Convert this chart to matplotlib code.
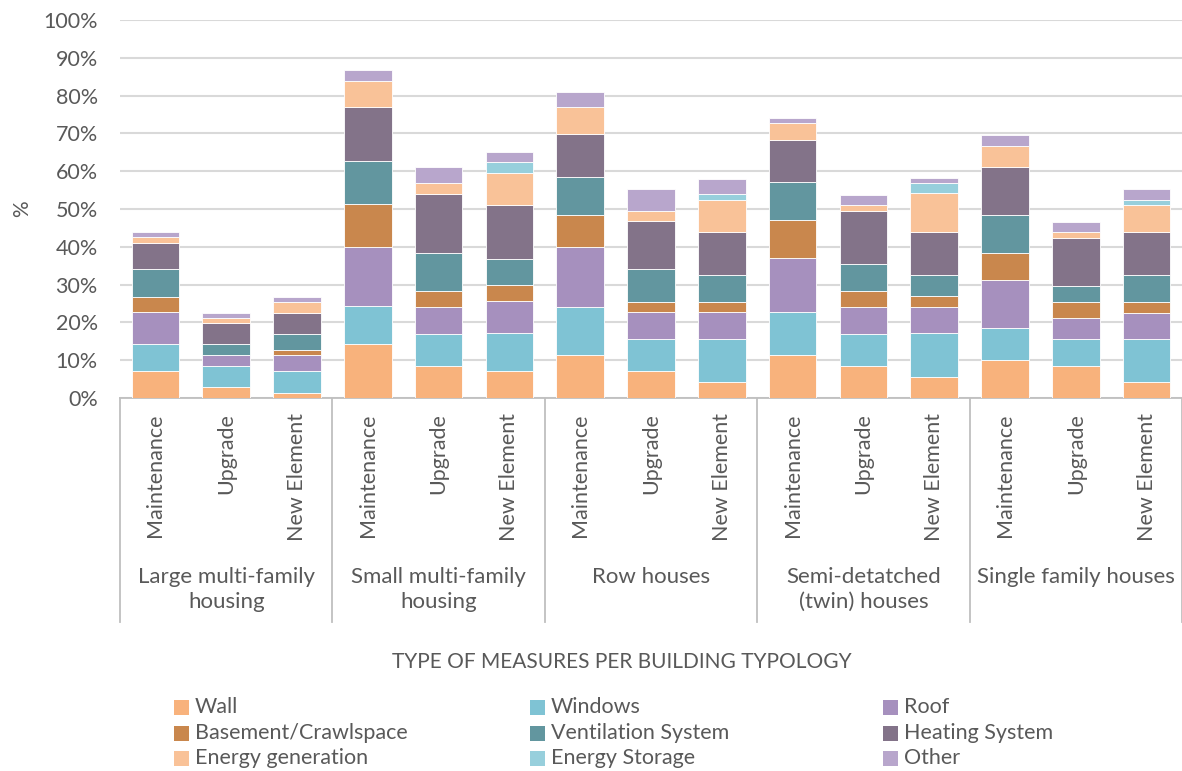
import matplotlib
matplotlib.use('Agg')
import matplotlib.pyplot as plt
from matplotlib.patches import Rectangle
from matplotlib.transforms import blended_transform_factory
from matplotlib.ticker import FuncFormatter
import numpy as np

plt.rcParams['font.family'] = ['Lato', 'DejaVu Sans']

groups = ["Large multi-family\nhousing", "Small multi-family\nhousing", "Row houses",
          "Semi-detatched\n(twin) houses", "Single family houses"]
measures = ["Maintenance", "Upgrade", "New Element"]
series_names = ["Wall", "Windows", "Roof", "Basement/Crawlspace", "Ventilation System",
                "Heating System", "Energy generation", "Energy Storage", "Other"]

wall = [7.1, 2.8, 1.4, 14.3, 8.5, 7.1, 11.4, 7.1, 4.2, 11.4, 8.5, 5.6, 10.0, 8.5, 4.2]
windows = [7.1, 5.7, 5.7, 10.0, 8.4, 10.0, 12.8, 8.5, 11.4, 11.4, 8.5, 11.5, 8.5, 7.0, 11.3]
roof = [8.5, 2.9, 4.2, 15.6, 7.2, 8.5, 15.7, 7.1, 7.1, 14.2, 7.1, 7.1, 12.8, 5.7, 7.1]
basement = [4.1, 0, 1.4, 11.4, 4.2, 4.2, 8.4, 2.8, 2.8, 10.0, 4.1, 2.8, 7.1, 4.2, 2.8]
ventilation = [7.2, 2.8, 4.2, 11.4, 10.0, 7.1, 10.1, 8.5, 7.0, 10.1, 7.2, 5.6, 10.0, 4.2, 7.1]
heating = [7.1, 5.6, 5.7, 14.2, 15.7, 14.2, 11.4, 12.7, 11.4, 11.2, 14.2, 11.4, 12.7, 12.8, 11.4]
energy_gen = [1.4, 1.4, 2.8, 7.0, 2.8, 8.4, 7.1, 2.9, 8.6, 4.4, 1.4, 10.2, 5.6, 1.4, 7.2]
energy_storage = [0, 0, 0, 0, 0, 2.9, 0, 0, 1.4, 0, 0, 2.7, 0, 0, 1.4]
other = [1.4, 1.4, 1.4, 2.9, 4.2, 2.8, 4.1, 5.7, 4.1, 1.3, 2.8, 1.4, 2.9, 2.8, 2.8]

series = [wall, windows, roof, basement, ventilation, heating, energy_gen, energy_storage, other]
colors = ["#F8B27C", "#7FC3D4", "#A690BE", "#C9874D", "#62969F",
          "#837389", "#F9C298", "#97CFDC", "#B8A6CC"]

W, H = 1182, 771
fig = plt.figure(figsize=(W / 100, H / 100), dpi=100)
ax = fig.add_axes([120 / W, 1 - 398 / H, (1182 - 120) / W, (398 - 20) / H])

n = len(wall)
x = np.arange(n) + 0.5
bottom = np.zeros(n)
for vals, col, name in zip(series, colors, series_names):
    v = np.array(vals, dtype=float)
    ax.bar(x, v, 0.67, bottom=bottom, color=col, edgecolor='white', linewidth=0.6,
           label=name, zorder=3)
    bottom += v

ax.set_xlim(0, n)
ax.set_ylim(0, 100)
ax.set_yticks(np.arange(0, 101, 10))
ax.yaxis.set_major_formatter(FuncFormatter(lambda v, p: f"{int(v)}%"))
ax.grid(axis='y', color='#D9D9D9', linewidth=1.5, zorder=0)
for s in ['top', 'right', 'left']:
    ax.spines[s].set_visible(False)
ax.spines['bottom'].set_color('#BFBFBF')
ax.spines['bottom'].set_linewidth(1.3)
ax.tick_params(axis='y', length=0, pad=16, labelsize=15.5, labelcolor='#595959')
ax.set_xticks(x)
ax.set_xticklabels(measures * len(groups), rotation=90, fontsize=15.5, color='#595959',
                   va='top', ha='center')
ax.tick_params(axis='x', length=0, pad=11)

fig.text(22 / W, 1 - 209 / H, '%', rotation=90, ha='center', va='center',
         fontsize=15, color='#595959')

trans = blended_transform_factory(ax.transData, fig.transFigure)
# group dividers
for g in range(len(groups) + 1):
    ax.plot([3 * g, 3 * g], [1 - 398 / H, 1 - 622 / H], transform=trans, color='#BFBFBF',
            linewidth=1.3, clip_on=False, zorder=1)
for g, name in enumerate(groups):
    ax.text(3 * g + 1.5, 1 - 567 / H, name, transform=trans, ha='center', va='top',
            fontsize=16, color='#595959', linespacing=1.3)

fig.text(622 / W, 1 - 662 / H, 'TYPE OF MEASURES PER BUILDING TYPOLOGY', ha='center',
         va='center', fontsize=15, color='#595959')

# legend (manual layout to match original column positions)
col_x = [174, 530, 883]
row_y = [707, 733, 758]
order = [[0, 3, 6], [1, 4, 7], [2, 5, 8]]
for ci, idxs in enumerate(order):
    for ri, si in enumerate(idxs):
        sq = 15
        fig.add_artist(Rectangle(((col_x[ci]) / W, 1 - (row_y[ri] + sq / 2) / H), sq / W, sq / H,
                                 transform=fig.transFigure, facecolor=colors[si],
                                 edgecolor='none'))
        fig.text((col_x[ci] + 21) / W, 1 - row_y[ri] / H, series_names[si], ha='left',
                 va='center', fontsize=15.5, color='#595959')

fig.savefig('out.png', dpi=100, facecolor='white')
